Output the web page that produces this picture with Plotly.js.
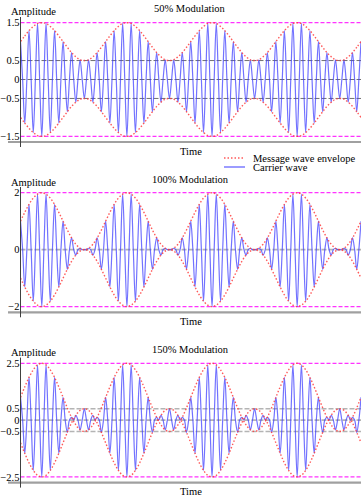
<!DOCTYPE html>
<html>
<head>
<meta charset="utf-8">
<script src="https://cdn.plot.ly/plotly-3.0.1.min.js"></script>
<style>html,body{margin:0;padding:0;background:#fff;}#chart{width:361px;height:500px;}</style>
</head>
<body>
<div id="chart"></div>
<script>
// Panel titles and labels
var panelTitles = ["50% Modulation", "100% Modulation", "150% Modulation"];
var legendNames = ["Message wave envelope", "Carrier wave"];
var axisLabelY = "Amplitude";
var axisLabelX = "Time";

// Envelope amplitude read at each carrier half-cycle (crest), 81 crests per panel
var env50 = [
1.00,1.15,1.29,1.40,1.48,1.50,1.48,1.40,1.29,1.15,1.00,0.85,0.71,0.60,0.52,0.50,0.52,0.60,0.71,0.85,
1.00,1.15,1.29,1.40,1.48,1.50,1.48,1.40,1.29,1.15,1.00,0.85,0.71,0.60,0.52,0.50,0.52,0.60,0.71,0.85,
1.00,1.15,1.29,1.40,1.48,1.50,1.48,1.40,1.29,1.15,1.00,0.85,0.71,0.60,0.52,0.50,0.52,0.60,0.71,0.85,
1.00,1.15,1.29,1.40,1.48,1.50,1.48,1.40,1.29,1.15,1.00,0.85,0.71,0.60,0.52,0.50,0.52,0.60,0.71,0.85,
1.00];
var env100 = [
1.00,1.31,1.59,1.81,1.95,2.00,1.95,1.81,1.59,1.31,1.00,0.69,0.41,0.19,0.05,0.00,0.05,0.19,0.41,0.69,
1.00,1.31,1.59,1.81,1.95,2.00,1.95,1.81,1.59,1.31,1.00,0.69,0.41,0.19,0.05,0.00,0.05,0.19,0.41,0.69,
1.00,1.31,1.59,1.81,1.95,2.00,1.95,1.81,1.59,1.31,1.00,0.69,0.41,0.19,0.05,0.00,0.05,0.19,0.41,0.69,
1.00,1.31,1.59,1.81,1.95,2.00,1.95,1.81,1.59,1.31,1.00,0.69,0.41,0.19,0.05,0.00,0.05,0.19,0.41,0.69,
1.00];
var env150 = [
1.00,1.46,1.88,2.21,2.43,2.50,2.43,2.21,1.88,1.46,1.00,0.54,0.12,-0.21,-0.43,-0.50,-0.43,-0.21,0.12,0.54,
1.00,1.46,1.88,2.21,2.43,2.50,2.43,2.21,1.88,1.46,1.00,0.54,0.12,-0.21,-0.43,-0.50,-0.43,-0.21,0.12,0.54,
1.00,1.46,1.88,2.21,2.43,2.50,2.43,2.21,1.88,1.46,1.00,0.54,0.12,-0.21,-0.43,-0.50,-0.43,-0.21,0.12,0.54,
1.00,1.46,1.88,2.21,2.43,2.50,2.43,2.21,1.88,1.46,1.00,0.54,0.12,-0.21,-0.43,-0.50,-0.43,-0.21,0.12,0.54,
1.00];

// Y tick values per panel
var ticks50 = [-1.5, -0.5, 0, 0.5, 1.5];
var ticks100 = [-2, 0, 2];
var ticks150 = [-2.5, -0.5, 0, 0.5, 2.5];
var peak50 = 1.5, peak100 = 2, peak150 = 2.5;

var envs = [env50, env100, env150];
var tickSets = [ticks50, ticks100, ticks150];
var peaks = [peak50, peak100, peak150];

// layout geometry (pixels)
var W = 361, H = 500;
var plotLeft = 20.5;
var domainsPx = [[17, 142], [187, 312.3], [357.6, 482.6]];
var FONT = "Liberation Serif, Times New Roman, serif";
var FS = 10.5;
var gridStyles = [
  {color: "#707070", width: 1, dash: "5px,2px"},
  {color: "#b4b4b4", width: 1.6, dash: "5px,2px"},
  {color: "#b4b4b4", width: 1.6, dash: "5px,2px"}
];

var traces = [];
var shapes = [];
var annotations = [];
var layout = {
  width: W, height: H,
  margin: {l: 0, r: 0, t: 0, b: 0},
  paper_bgcolor: "#fff", plot_bgcolor: "#fff",
  showlegend: false,
  font: {family: FONT, size: FS, color: "#000"}
};

for (var p = 0; p < 3; p++) {
  var env = envs[p];
  var xs = "x" + (p === 0 ? "" : p + 1);
  var ys = "y" + (p === 0 ? "" : p + 1);
  var xk = "xaxis" + (p === 0 ? "" : p + 1);
  var yk = "yaxis" + (p === 0 ? "" : p + 1);

  // envelope: upper and lower
  var ex = [], ey = [];
  for (var k = 0; k < env.length; k++) { ex.push(k); ey.push(env[k]); }
  ex.push(null); ey.push(null);
  for (var k = 0; k < env.length; k++) { ex.push(k); ey.push(-env[k]); }

  // carrier: crests alternate sign, crossing zero between crests
  var cx = [], cy = [];
  for (var k = 0; k < env.length; k++) {
    cx.push(k); cy.push((k % 2 === 0 ? 1 : -1) * env[k]);
    if (k < env.length - 1) { cx.push(k + 0.5); cy.push(0); }
  }

  traces.push({
    x: cx, y: cy, xaxis: xs, yaxis: ys, mode: "lines", name: legendNames[1],
    line: {color: "rgba(60,60,255,0.72)", width: 1.2, shape: "spline", smoothing: 1},
    hoverinfo: "skip"
  });
  traces.push({
    x: ex, y: ey, xaxis: xs, yaxis: ys, mode: "lines", name: legendNames[0],
    line: {color: "rgba(255,60,60,0.85)", width: 1.4, dash: "1.5px,2px", shape: "spline", smoothing: 1},
    hoverinfo: "skip", connectgaps: false
  });

  var d = domainsPx[p];
  var pk = peaks[p];
  layout[xk] = {
    domain: [plotLeft / W, 1], range: [0, env.length - 1],
    anchor: ys, showticklabels: false, showgrid: false, zeroline: false,
    showline: false, ticks: ""
  };
  layout[yk] = {
    domain: [1 - d[1] / H, 1 - d[0] / H], range: [-1.1 * pk, 1.1 * pk],
    anchor: xs, tickvals: tickSets[p], ticks: "", showgrid: false, zeroline: false,
    showline: false, tickfont: {family: FONT, size: 10.5, color: "#000"}, ticklabelstandoff: 0
  };

  // horizontal reference lines at tick values
  tickSets[p].forEach(function (v) {
    var isPeak = Math.abs(v) === pk;
    var st = isPeak ? {color: "#ff33ff", width: 1.2, dash: "4px,2px"} : gridStyles[p];
    shapes.push({type: "line", xref: xs + " domain", yref: ys, x0: 0, x1: 1, y0: v, y1: v,
      line: st, layer: "below"});
  });

  // x axis line (thick gray, extends left of y axis)
  shapes.push({type: "line", xref: "paper", yref: ys + " domain", x0: 8 / W, x1: 1, y0: 0, y1: 0,
    line: {color: "#a0a0a0", width: 2.2}});
  // y axis line (extends slightly below x axis)
  shapes.push({type: "line", xref: "paper", yref: ys + " domain", x0: plotLeft / W, x1: plotLeft / W,
    y0: -0.04, y1: 1, line: {color: "#404040", width: 1}});

  // titles
  var titleY = [8.5, 179, 349][p];
  var ampY = [11.5, 182, 352.5][p];
  annotations.push({text: panelTitles[p], xref: "paper", yref: "paper", x: 190 / W, y: 1 - titleY / H,
    xanchor: "center", yanchor: "middle", showarrow: false, font: {family: FONT, size: FS}});
  annotations.push({text: axisLabelY, xref: "paper", yref: "paper", x: 9 / W, y: 1 - ampY / H,
    xanchor: "left", yanchor: "middle", showarrow: false, font: {family: FONT, size: FS}});
  annotations.push({text: axisLabelX, xref: "paper", yref: "paper", x: 191 / W, y: 1 - (d[1] + 9) / H,
    xanchor: "center", yanchor: "middle", showarrow: false, font: {family: FONT, size: FS}});
}

// legend (drawn manually for tight spacing)
shapes.push({type: "line", xref: "paper", yref: "paper", x0: 224 / W, x1: 245 / W, y0: 1 - 158 / H, y1: 1 - 158 / H,
  line: {color: "rgba(255,60,60,0.85)", width: 1.4, dash: "1.5px,2px"}});
shapes.push({type: "line", xref: "paper", yref: "paper", x0: 224 / W, x1: 245 / W, y0: 1 - 167 / H, y1: 1 - 167 / H,
  line: {color: "rgba(60,60,255,0.78)", width: 1.3}});
annotations.push({text: legendNames[0], xref: "paper", yref: "paper", x: 251 / W, y: 1 - 158 / H,
  xanchor: "left", yanchor: "middle", showarrow: false, font: {family: FONT, size: FS}});
annotations.push({text: legendNames[1], xref: "paper", yref: "paper", x: 251 / W, y: 1 - 167 / H,
  xanchor: "left", yanchor: "middle", showarrow: false, font: {family: FONT, size: FS}});

layout.shapes = shapes;
layout.annotations = annotations;

Plotly.newPlot("chart", traces, layout, {displayModeBar: false, staticPlot: true});
</script>
</body>
</html>
